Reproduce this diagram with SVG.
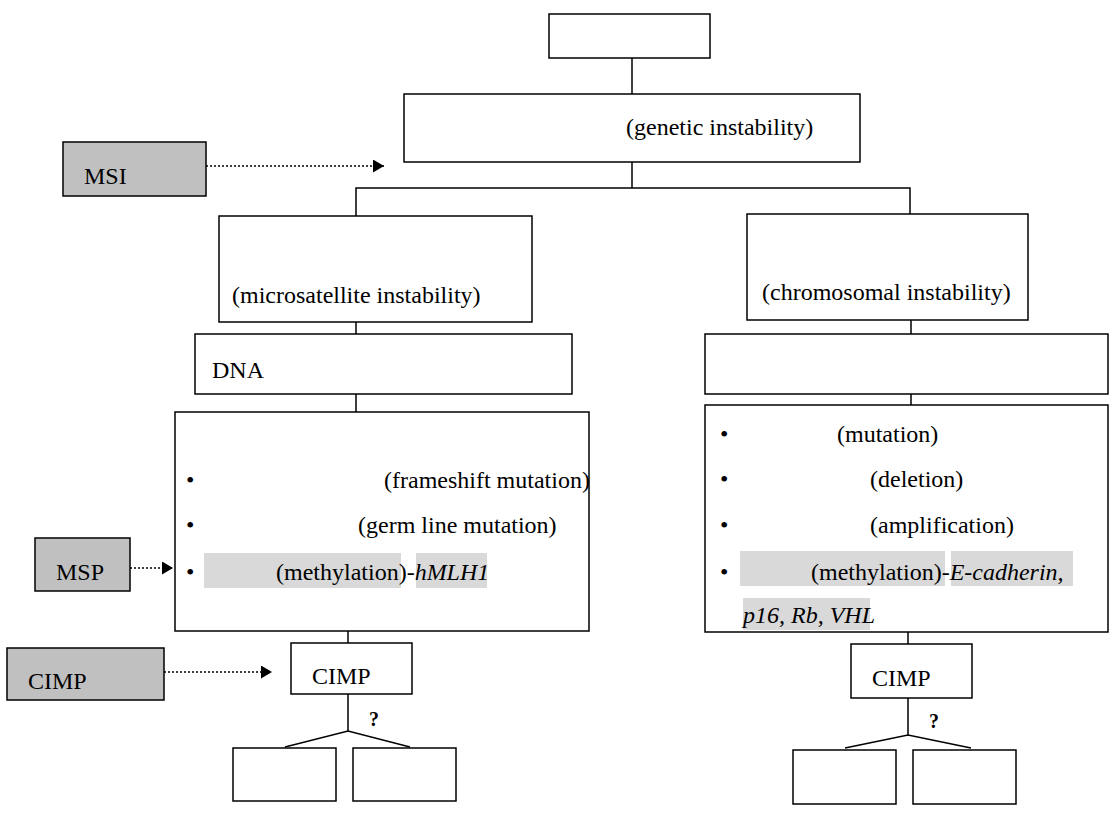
<svg xmlns="http://www.w3.org/2000/svg" width="1113" height="820" viewBox="0 0 1113 820">
<defs>
<style>
.box{fill:#fff;stroke:#000;stroke-width:1.5}
.gbox{fill:#c0c0c0;stroke:#000;stroke-width:1.5}
.ln{fill:none;stroke:#000;stroke-width:1.5}
.dot{fill:none;stroke:#000;stroke-width:1.5;stroke-dasharray:2 2}
.t{font-family:"Liberation Serif","Times New Roman",serif;font-size:24px;fill:#000}
.it{font-style:italic}
.q{font-family:"Liberation Serif","Times New Roman",serif;font-size:20px;font-weight:bold;fill:#000}
.hl{fill:#d9d9d9}
</style>
<marker id="ah" markerWidth="11" markerHeight="13" refX="11" refY="6.5" orient="auto" markerUnits="userSpaceOnUse">
<path d="M0,0 L11,6.5 L0,13 Z" fill="#000"/>
</marker>
</defs>
<rect width="1113" height="820" fill="#fff"/>
<g id="connectors">
<path class="ln" d="M632,58 V94"/>
<path class="ln" d="M632,162 V188 M356,216 V188 H910 V214"/>
<path class="ln" d="M356,322 V334 M356,394 V412"/>
<path class="ln" d="M911,320 V334 M911,394 V405"/>
<path class="ln" d="M348,631 V643"/>
<path class="ln" d="M908,632 V644"/>
<path class="ln" d="M348,694 V731 M285,747 L348,731 L410,747"/>
<path class="ln" d="M908,698 V735 M845,748 L908,735 L971,748"/>
<path class="dot" d="M206,166 H384" marker-end="url(#ah)"/>
<path class="dot" d="M130,568 H173" marker-end="url(#ah)"/>
<path class="dot" d="M164,672 H272" marker-end="url(#ah)"/>
</g>
<g id="top"><rect class="box" x="549" y="14" width="161" height="44"/></g>
<g id="genetic"><rect class="box" x="404" y="94" width="456" height="68"/>
<text class="t" x="626" y="135">(genetic instability)</text></g>
<g id="msi-label"><rect class="gbox" x="63" y="142" width="143" height="54"/>
<text class="t" x="84" y="184">MSI</text></g>
<g id="microsatellite"><rect class="box" x="219" y="216" width="313" height="106"/>
<text class="t" x="232" y="303">(microsatellite instability)</text></g>
<g id="chromosomal"><rect class="box" x="747" y="214" width="281" height="106"/>
<text class="t" x="762" y="300">(chromosomal instability)</text></g>
<g id="dna"><rect class="box" x="195" y="334" width="377" height="60"/>
<text class="t" x="212" y="378">DNA</text></g>
<g id="right-mid"><rect class="box" x="705" y="334" width="403" height="60"/></g>
<g id="left-list"><rect class="box" x="175" y="412" width="414" height="219"/>
<rect class="hl" x="204" y="553" width="197" height="35"/>
<rect class="hl" x="416" y="553" width="71" height="35"/>
<text class="t" x="186" y="488">•</text>
<text class="t" x="384" y="488">(frameshift mutation)</text>
<text class="t" x="186" y="533">•</text>
<text class="t" x="358" y="533">(germ line mutation)</text>
<text class="t" x="186" y="580">•</text>
<text class="t" x="276" y="580">(methylation)-<tspan class="it">hMLH1</tspan></text></g>
<g id="msp-label"><rect class="gbox" x="35" y="538" width="95" height="53"/>
<text class="t" x="56" y="580">MSP</text></g>
<g id="right-list"><rect class="box" x="705" y="405" width="403" height="227"/>
<rect class="hl" x="740" y="551" width="205" height="35"/>
<rect class="hl" x="951" y="551" width="122" height="35"/>
<rect class="hl" x="743" y="598" width="127" height="32"/>
<text class="t" x="720" y="442">•</text>
<text class="t" x="837" y="442">(mutation)</text>
<text class="t" x="720" y="487">•</text>
<text class="t" x="870" y="487">(deletion)</text>
<text class="t" x="720" y="533">•</text>
<text class="t" x="870" y="533">(amplification)</text>
<text class="t" x="720" y="580">•</text>
<text class="t" x="811" y="580">(methylation)-<tspan class="it">E-cadherin,</tspan></text>
<text class="t it" x="743" y="623">p16, Rb, VHL</text></g>
<g id="cimp-label"><rect class="gbox" x="7" y="648" width="157" height="52"/>
<text class="t" x="28" y="689">CIMP</text></g>
<g id="cimp-left"><rect class="box" x="291" y="643" width="121" height="51"/>
<text class="t" x="312" y="684">CIMP</text></g>
<g id="cimp-right"><rect class="box" x="851" y="644" width="121" height="54"/>
<text class="t" x="872" y="686">CIMP</text></g>
<text class="q" x="369" y="726">?</text>
<text class="q" x="929" y="728">?</text>
<g id="left-a"><rect class="box" x="233" y="748" width="103" height="53"/></g>
<g id="left-b"><rect class="box" x="353" y="748" width="103" height="53"/></g>
<g id="right-a"><rect class="box" x="793" y="750" width="103" height="54"/></g>
<g id="right-b"><rect class="box" x="913" y="750" width="103" height="54"/></g>
</svg>
